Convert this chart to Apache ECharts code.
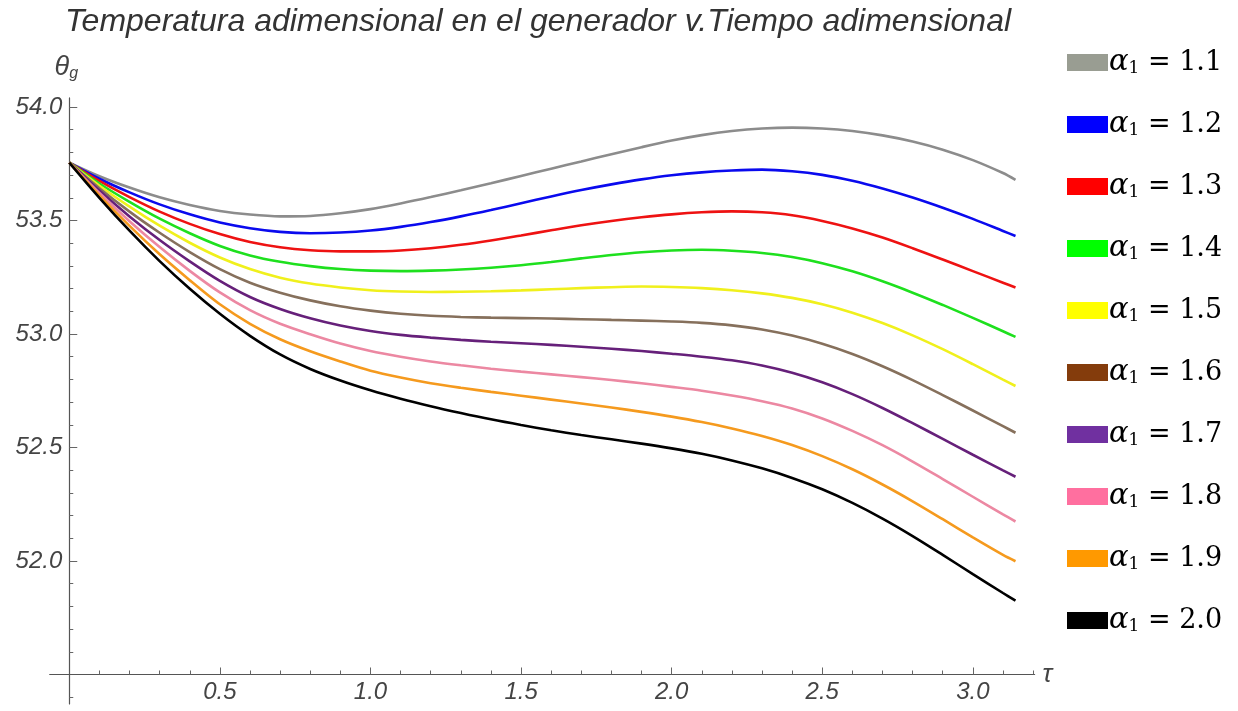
<!DOCTYPE html>
<html>
<head>
<meta charset="utf-8">
<script src="https://cdn.jsdelivr.net/npm/echarts@6/dist/echarts.min.js"></script>
<style>
  html, body { margin: 0; padding: 0; background: #ffffff; }
  #chart { width: 1238px; height: 711px; }
</style>
</head>
<body>
<div id="chart"></div>
<script>
// Dimensionless time samples (last point is tau = pi)
const tau = [0, 0.1, 0.2, 0.3, 0.4, 0.5, 0.6, 0.7, 0.8, 0.9, 1.0, 1.1, 1.2, 1.3, 1.4, 1.5, 1.6, 1.7, 1.8, 1.9,
             2.0, 2.1, 2.2, 2.3, 2.4, 2.5, 2.6, 2.7, 2.8, 2.9, 3.0, 3.1, 3.1416];

// Dimensionless generator temperature theta_g for each alpha_1
const theta_a11 = [53.755, 53.695, 53.645, 53.602, 53.568, 53.542, 53.526, 53.518, 53.520, 53.532, 53.550, 53.575, 53.603, 53.633, 53.664, 53.696, 53.728, 53.760, 53.792, 53.823,
                   53.852, 53.876, 53.894, 53.905, 53.909, 53.905, 53.894, 53.875, 53.848, 53.812, 53.766, 53.709, 53.679];
const theta_a12 = [53.755, 53.684, 53.624, 53.571, 53.527, 53.491, 53.466, 53.450, 53.444, 53.447, 53.456, 53.472, 53.493, 53.518, 53.546, 53.576, 53.606, 53.634, 53.659, 53.681,
                   53.699, 53.712, 53.720, 53.724, 53.717, 53.701, 53.675, 53.641, 53.601, 53.556, 53.507, 53.454, 53.432];
const theta_a13 = [53.755, 53.674, 53.603, 53.539, 53.485, 53.440, 53.405, 53.382, 53.369, 53.364, 53.364, 53.368, 53.378, 53.393, 53.412, 53.434, 53.457, 53.479, 53.498, 53.514,
                   53.527, 53.536, 53.540, 53.536, 53.523, 53.498, 53.465, 53.425, 53.378, 53.328, 53.277, 53.226, 53.205];
const theta_a14 = [53.755, 53.663, 53.582, 53.508, 53.444, 53.388, 53.346, 53.318, 53.299, 53.286, 53.279, 53.277, 53.279, 53.284, 53.292, 53.303, 53.317, 53.333, 53.348, 53.360,
                   53.368, 53.371, 53.367, 53.357, 53.339, 53.312, 53.276, 53.232, 53.182, 53.128, 53.071, 53.012, 52.987];
const theta_a15 = [53.755, 53.653, 53.561, 53.477, 53.402, 53.337, 53.286, 53.248, 53.222, 53.205, 53.193, 53.187, 53.185, 53.186, 53.188, 53.192, 53.197, 53.202, 53.206, 53.209,
                   53.207, 53.202, 53.193, 53.179, 53.159, 53.131, 53.094, 53.048, 52.994, 52.933, 52.867, 52.799, 52.771];
const theta_a16 = [53.755, 53.642, 53.539, 53.446, 53.361, 53.286, 53.226, 53.182, 53.148, 53.122, 53.103, 53.089, 53.080, 53.075, 53.072, 53.070, 53.068, 53.065, 53.062, 53.059,
                   53.055, 53.049, 53.038, 53.020, 52.993, 52.957, 52.912, 52.858, 52.797, 52.731, 52.663, 52.594, 52.565];
const theta_a17 = [53.755, 53.632, 53.518, 53.414, 53.320, 53.234, 53.163, 53.110, 53.069, 53.037, 53.013, 52.996, 52.984, 52.974, 52.966, 52.959, 52.952, 52.944, 52.935, 52.925,
                   52.913, 52.900, 52.884, 52.861, 52.829, 52.787, 52.735, 52.674, 52.607, 52.538, 52.468, 52.399, 52.371];
const theta_a18 = [53.755, 53.621, 53.497, 53.383, 53.278, 53.183, 53.105, 53.045, 52.999, 52.958, 52.925, 52.900, 52.879, 52.862, 52.847, 52.834, 52.822, 52.810, 52.797, 52.783,
                   52.767, 52.750, 52.729, 52.704, 52.672, 52.628, 52.573, 52.510, 52.438, 52.361, 52.283, 52.205, 52.174];
const theta_a19 = [53.755, 53.611, 53.476, 53.351, 53.237, 53.131, 53.045, 52.977, 52.924, 52.879, 52.838, 52.808, 52.783, 52.763, 52.745, 52.728, 52.711, 52.694, 52.676, 52.657,
                   52.636, 52.612, 52.584, 52.551, 52.511, 52.462, 52.404, 52.337, 52.263, 52.184, 52.104, 52.027, 51.999];
const theta_a20 = [53.755, 53.600, 53.455, 53.321, 53.199, 53.089, 52.992, 52.910, 52.846, 52.795, 52.752, 52.715, 52.682, 52.652, 52.624, 52.599, 52.576, 52.555, 52.536, 52.517,
                   52.496, 52.472, 52.443, 52.408, 52.366, 52.316, 52.256, 52.187, 52.110, 52.027, 51.942, 51.859, 51.825];

const alphaValues = ['1.1', '1.2', '1.3', '1.4', '1.5', '1.6', '1.7', '1.8', '1.9', '2.0'];
const thetaSeries = [theta_a11, theta_a12, theta_a13, theta_a14, theta_a15, theta_a16, theta_a17, theta_a18, theta_a19, theta_a20];

const lineColors   = ['#8c8c8c', '#0a0aee', '#ee1212', '#1ee01e', '#f0f01c', '#86705c', '#66207a', '#ec88a2', '#f59a1e', '#000000'];
const swatchColors = ['#999d92', '#0000ff', '#ff0000', '#00ff00', '#ffff00', '#843c0c', '#7030a0', '#ff6f9f', '#ff9900', '#000000'];

// Axis ticks
const yMajorTicks = [52.0, 52.5, 53.0, 53.5, 54.0];
const yMinorTicks = [51.4, 51.6, 51.7, 51.8, 51.9, 52.1, 52.2, 52.3, 52.4, 52.6, 52.7, 52.8, 52.9,
                     53.1, 53.2, 53.3, 53.4, 53.6, 53.7, 53.8, 53.9];
const xMajorTicks = [0.5, 1.0, 1.5, 2.0, 2.5, 3.0];
const xMinorTicks = [0.1, 0.2, 0.3, 0.4, 0.6, 0.7, 0.8, 0.9, 1.1, 1.2, 1.3, 1.4, 1.6, 1.7, 1.8, 1.9,
                     2.1, 2.2, 2.3, 2.4, 2.6, 2.7, 2.8, 2.9, 3.1, 3.2];

const titleText = 'Temperatura adimensional en el generador v.Tiempo adimensional';

// Plot ranges: axes cross at (0, 51.5); both axis lines run a little past the crossing
const X_MIN = -0.065, X_MAX = 3.205;
const Y_MIN = 51.37, Y_MAX = 54.04;
const X_CROSS = 0, Y_CROSS = 51.5;
const plot = { left: 49.7, top: 97.9, width: 984.9, height: 606.1 };
// shift each axis from the grid edge onto the crossing point
const xAxisOffset = -(Y_CROSS - Y_MIN) / (Y_MAX - Y_MIN) * plot.height;
const yAxisOffset = -(X_CROSS - X_MIN) / (X_MAX - X_MIN) * plot.width;

const axisColor = '#555555';
const tickColor = '#666666';
const labelFont = { fontFamily: 'Liberation Sans', fontStyle: 'italic', fontSize: 24, color: '#444444' };

const chart = echarts.init(document.getElementById('chart'), null, { renderer: 'canvas' });

const xAxisBase = {
  type: 'value', min: X_MIN, max: X_MAX, position: 'bottom', offset: xAxisOffset,
  splitLine: { show: false }
};
const yAxisBase = {
  type: 'value', min: Y_MIN, max: Y_MAX, position: 'left', offset: yAxisOffset,
  splitLine: { show: false }
};

chart.setOption({
  animation: false,
  backgroundColor: '#ffffff',
  title: {
    text: titleText,
    left: 60, top: 1,
    textStyle: { fontFamily: 'Liberation Sans', fontStyle: 'italic', fontWeight: 'normal', fontSize: 32, color: '#333333' }
  },
  grid: {
    left: plot.left, top: plot.top, width: plot.width, height: plot.height,
    containLabel: false, outerBoundsMode: 'none'
  },
  legend: {
    orient: 'vertical', left: 1067, top: 48, padding: 0,
    itemWidth: 41, itemHeight: 17, itemGap: 32.5,
    icon: 'rect',
    selectedMode: false,
    data: alphaValues.map((a, i) => ({ name: a, itemStyle: { color: swatchColors[i], borderWidth: 0 } })),
    formatter: name => '{a|α}{s|1}{t| = ' + name + '}',
    textStyle: {
      padding: [0, 0, 0, -4],
      rich: {
        a: { fontFamily: 'DejaVu Serif', fontStyle: 'italic', fontSize: 29, lineHeight: 30, color: '#000' },
        s: { fontFamily: 'DejaVu Serif', fontSize: 17, lineHeight: 14, verticalAlign: 'bottom', color: '#000' },
        t: { fontFamily: 'DejaVu Serif', fontSize: 27, lineHeight: 30, color: '#000' }
      }
    }
  },
  xAxis: [
    Object.assign({}, xAxisBase, {
      name: 'τ', nameLocation: 'end', nameGap: 8,
      nameTextStyle: { fontFamily: 'Liberation Sans', fontStyle: 'italic', fontSize: 26, color: '#444', padding: [10, 0, 0, 0] },
      axisLine: { onZero: false, lineStyle: { color: axisColor, width: 1.2 } },
      axisTick: { inside: true, length: 7, customValues: xMajorTicks, lineStyle: { color: tickColor } },
      axisLabel: Object.assign({ customValues: xMajorTicks, margin: 6, formatter: v => v.toFixed(1) }, labelFont)
    }),
    Object.assign({}, xAxisBase, {
      axisLine: { show: false, onZero: false },
      axisTick: { inside: true, length: 4, customValues: xMinorTicks, lineStyle: { color: tickColor } },
      axisLabel: { show: false }
    })
  ],
  yAxis: [
    Object.assign({}, yAxisBase, {
      name: '{t|θ}{s|g}', nameLocation: 'end', nameGap: 16,
      nameTextStyle: {
        align: 'center',
        padding: [0, 6, 0, 0],
        rich: {
          t: { fontFamily: 'Liberation Sans', fontStyle: 'italic', fontSize: 27, lineHeight: 28, color: '#444' },
          s: { fontFamily: 'Liberation Sans', fontStyle: 'italic', fontSize: 16, lineHeight: 12, verticalAlign: 'bottom', color: '#444' }
        }
      },
      axisLine: { onZero: false, lineStyle: { color: axisColor, width: 1.2 } },
      axisTick: { inside: true, length: 8, customValues: yMajorTicks, lineStyle: { color: tickColor } },
      axisLabel: Object.assign({ customValues: yMajorTicks, margin: 7, formatter: v => v.toFixed(1) }, labelFont)
    }),
    Object.assign({}, yAxisBase, {
      axisLine: { show: false, onZero: false },
      axisTick: { inside: true, length: 4, customValues: yMinorTicks, lineStyle: { color: tickColor } },
      axisLabel: { show: false }
    })
  ],
  series: alphaValues.map((a, i) => ({
    name: a,
    type: 'line',
    xAxisIndex: 0,
    yAxisIndex: 0,
    smooth: 0.3,
    symbol: 'none',
    silent: true,
    color: swatchColors[i],
    lineStyle: { color: lineColors[i], width: 2.6 },
    emphasis: { disabled: true },
    data: tau.map((t, k) => [t, thetaSeries[i][k]])
  }))
});
</script>
</body>
</html>
